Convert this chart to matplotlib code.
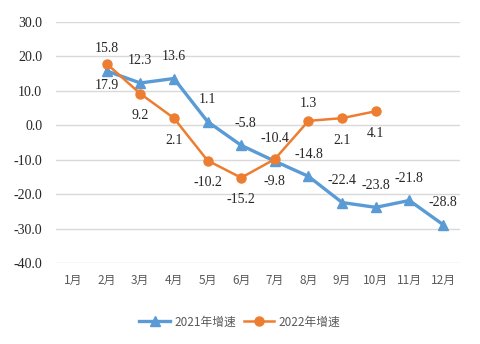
import numpy as np
import matplotlib
matplotlib.use('Agg')
import matplotlib.pyplot as plt

plt.rcParams['font.family'] = ['Noto Sans CJK SC', 'DejaVu Sans']

#Chart data
months = ['1月', '2月', '3月', '4月', '5月', '6月', '7月', '8月', '9月', '10月', '11月', '12月']
growth_2021 = [np.nan, 15.8, 12.3, 13.6, 1.1, -5.8, -10.4, -14.8, -22.4, -23.8, -21.8, -28.8]
growth_2022 = [np.nan, 17.9, 9.2, 2.1, -10.2, -15.2, -9.8, 1.3, 2.1, 4.1, np.nan, np.nan]
labels_2021 = ['', '15.8', '12.3', '13.6', '1.1', '-5.8', '-10.4', '-14.8', '-22.4', '-23.8', '-21.8', '-28.8']
labels_2022 = ['', '17.9', '9.2', '2.1', '-10.2', '-15.2', '-9.8', '1.3', '2.1', '4.1', '', '']
y_ticks = [-40, -30, -20, -10, 0, 10, 20, 30]

blue = '#5B9BD5'
orange = '#ED7D31'

fig = plt.figure(figsize=(4.8, 3.44), dpi=100)
ax = fig.add_axes([0.117, 0.235, 0.841, 0.701])
x = np.arange(1, 13)

ax.plot(x, growth_2021, color=blue, lw=2.4, marker='^', ms=7, label='2021年增速', zorder=3)
ax.plot(x, growth_2022, color=orange, lw=1.8, marker='o', ms=6.5, label='2022年增速', zorder=4)

#Data labels: 2021 above, 2022 below (8月 label above)
serif = 'Liberation Serif'
for xi, v, t in zip(x, growth_2021, labels_2021):
    if t:
        dx = 3 if t == '-5.8' else 0
        ax.annotate(t, (xi, v), xytext=(dx, 16), textcoords='offset points',
                    ha='center', va='center', fontsize=10, family=serif, color='#262626')
for xi, v, t in zip(x, growth_2022, labels_2022):
    if t:
        dy = 12.5 if xi == 8 else -16
        ax.annotate(t, (xi, v), xytext=(0, dy), textcoords='offset points',
                    ha='center', va='center', fontsize=10, family=serif, color='#262626')

ax.set_xlim(0.5, 12.5)
ax.set_ylim(-40, 30)
ax.set_yticks(y_ticks)
ax.set_yticklabels(['%.1f' % t for t in y_ticks], family=serif, fontsize=10, color='#262626')
ax.set_xticks(x)
ax.set_xticklabels(months, fontsize=8.5, color='#595959')
ax.tick_params(length=0, pad=8)
ax.tick_params(axis='y', pad=10)
ax.grid(axis='y', color='#D9D9D9', lw=1)
ax.set_axisbelow(True)
for s in ax.spines.values():
    s.set_visible(False)

fig.legend(loc='center', bbox_to_anchor=(0.5, 0.064), ncol=2, frameon=False,
           fontsize=8.5, labelcolor='#595959', handlelength=2.6, columnspacing=0.6,
           handletextpad=0.4)

fig.savefig('out.png', dpi=100)
